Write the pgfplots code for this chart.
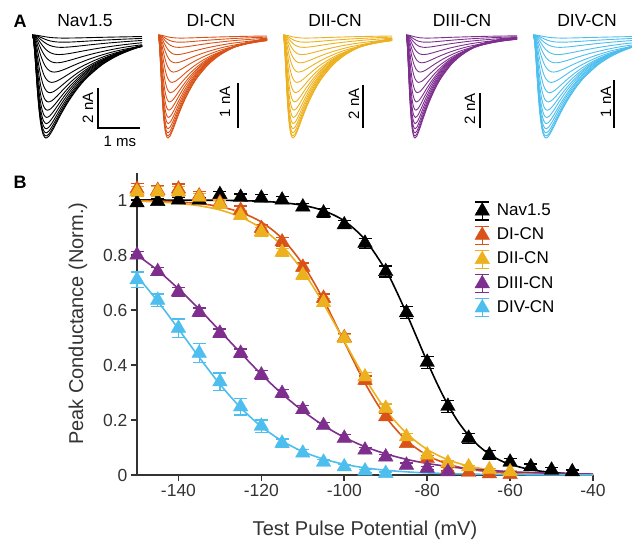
\documentclass[border=0pt]{standalone}
\usepackage{pgfplots}
\pgfplotsset{compat=1.18}
\usepackage{pgfplotstable}
\usepackage{fontspec}
\setmainfont{Liberation Sans}
\definecolor{cNav}{HTML}{000000}
\definecolor{cDI}{HTML}{D95319}
\definecolor{cDII}{HTML}{EDB120}
\definecolor{cDIII}{HTML}{7E2F8E}
\definecolor{cDIV}{HTML}{4DBEEE}
\definecolor{axc}{HTML}{333333}

% normalized current trace shape (time in units of peak time)
\pgfplotstableread{
u s
0 0
0.1 0.037
0.2 0.178
0.3 0.373
0.4 0.564
0.5 0.722
0.6 0.840
0.7 0.919
0.8 0.968
0.9 0.993
1.0 1.0
1.2 0.982
1.5 0.917
2.0 0.787
2.5 0.668
3.0 0.566
3.5 0.478
4.0 0.405
5.0 0.290
6.0 0.208
7.0 0.149
8.0 0.107
10 0.055
12 0.028
}\shapetab

\pgfplotstableread{
V G e
-150 0.990 0.010
-145 0.995 0.010
-140 1.000 0.010
-135 1.000 0.010
-130 1.020 0.012
-125 1.010 0.012
-120 1.007 0.012
-115 1.000 0.012
-110 0.975 0.012
-105 0.953 0.015
-100 0.910 0.015
-95 0.843 0.018
-90 0.740 0.020
-85 0.590 0.022
-80 0.410 0.022
-75 0.250 0.022
-70 0.134 0.018
-65 0.073 0.015
-60 0.047 0.012
-55 0.030 0.010
-50 0.018 0.008
-45 0.012 0.006
}\navdata

\pgfplotstableread{
V G e
-150 1.040 0.020
-145 1.035 0.018
-140 1.040 0.018
-135 1.015 0.015
-130 0.990 0.015
-125 0.963 0.015
-120 0.897 0.015
-115 0.848 0.015
-110 0.756 0.015
-105 0.643 0.015
-100 0.500 0.015
-95 0.345 0.015
-90 0.212 0.012
-85 0.115 0.012
-80 0.060 0.010
-75 0.020 0.008
-70 0.010 0.006
-65 0.005 0.005
-60 0.002 0.005
}\dIdata

\pgfplotstableread{
V G e
-150 1.030 0.018
-145 1.030 0.018
-140 1.030 0.018
-135 1.010 0.015
-130 0.985 0.015
-125 0.945 0.015
-120 0.884 0.015
-115 0.810 0.015
-110 0.727 0.015
-105 0.627 0.015
-100 0.497 0.015
-95 0.357 0.015
-90 0.243 0.015
-85 0.139 0.012
-80 0.073 0.010
-75 0.044 0.008
-70 0.030 0.006
-65 0.020 0.005
-60 0.012 0.005
}\dIIdata

\pgfplotstableread{
V G e
-150 0.800 0.012
-145 0.740 0.015
-140 0.666 0.015
-135 0.592 0.015
-130 0.516 0.015
-125 0.443 0.015
-120 0.364 0.015
-115 0.297 0.015
-110 0.238 0.015
-105 0.180 0.012
-100 0.134 0.012
-95 0.091 0.010
-90 0.066 0.008
-85 0.036 0.008
-80 0.025 0.006
-75 0.012 0.005
}\dIIIdata

\pgfplotstableread{
V G e
-150 0.710 0.028
-145 0.636 0.022
-140 0.534 0.033
-135 0.443 0.034
-130 0.339 0.032
-125 0.248 0.030
-120 0.178 0.022
-115 0.116 0.015
-110 0.080 0.012
-105 0.047 0.010
-100 0.030 0.008
-95 0.015 0.006
-90 0.006 0.005
}\dIVdata

% Boltzmann fits (tabulated)
\pgfplotstableread{
V F
-150 1.0
-145 0.9999
-140 0.9997
-135 0.9994
-130 0.9989
-125 0.9977
-120 0.9953
-115 0.9904
-110 0.9807
-105 0.9613
-100 0.924
-95 0.856
-90 0.745
-87.5 0.671
-85 0.588
-82.5 0.5
-80 0.412
-77.5 0.329
-75 0.255
-72.5 0.193
-70 0.144
-67.5 0.105
-65 0.076
-62.5 0.054
-60 0.0387
-55 0.0193
-50 0.0095
-45 0.0047
-40 0.0023
}\navfit

\pgfplotstableread{
V F
-150 0.998
-145 0.9962
-140 0.993
-135 0.987
-130 0.976
-125 0.955
-120 0.920
-115 0.860
-110 0.766
-105 0.637
-100 0.484
-95 0.334
-90 0.212
-85 0.126
-80 0.0716
-75 0.0397
-70 0.0216
-65 0.0117
-60 0.0063
-55 0.0034
-50 0.0018
-45 0.0010
-40 0.0005
}\dIfit

\pgfplotstableread{
V F
-150 0.996
-145 0.9929
-140 0.988
-135 0.979
-130 0.964
-125 0.938
-120 0.897
-115 0.834
-110 0.742
-105 0.622
-100 0.486
-95 0.352
-90 0.237
-85 0.152
-80 0.093
-75 0.0556
-70 0.0326
-65 0.019
-60 0.011
-55 0.0063
-50 0.0036
-45 0.0021
-40 0.0012
}\dIIfit

\pgfplotstableread{
V F
-150 0.800
-145 0.744
-140 0.677
-135 0.603
-130 0.524
-125 0.444
-120 0.366
-115 0.295
-110 0.233
-105 0.180
-100 0.137
-95 0.103
-90 0.077
-85 0.057
-80 0.042
-75 0.031
-70 0.0225
-60 0.0119
-50 0.0063
-40 0.0033
}\dIIIfit

\pgfplotstableread{
V F
-150 0.723
-145 0.632
-140 0.531
-135 0.428
-130 0.330
-125 0.245
-120 0.176
-115 0.124
-110 0.085
-105 0.058
-100 0.039
-95 0.026
-90 0.0173
-85 0.0115
-80 0.0076
-70 0.0033
-60 0.0014
-40 0.0003
}\dIVfit

% one current trace: colour, amplitude, time to peak
\newcommand{\tr}[3]{\addplot[#1, smooth, no markers, line width=0.9bp] table[x expr=\thisrow{u}*#3, y expr=-#2*\thisrow{s}] {\shapetab};}

\pgfplotsset{
  trace axis/.style={scale only axis, hide axis, anchor=south west,
    height=109.2bp, xmin=0, ymin=-1.03, ymax=0.03},
  datastyle/.style={only marks, mark=triangle*, mark size=8.4bp, color=#1,
    mark options={line width=0.4bp},
    error bars/.cd, y dir=both, y explicit,
    error bar style={line width=1.2bp, color=#1},
    error mark options={rotate=90, mark size=6.5bp, line width=1.2bp, color=#1}},
  fitstyle/.style={no markers, smooth, line width=1.6bp, color=#1, forget plot},
}

\begin{document}
\begin{tikzpicture}
\useasboundingbox (0,0) rectangle (632bp,-541bp);

% ---------- Panel A: current traces ----------
\begin{axis}[trace axis, at={(32bp,-141.1bp)}, width=110bp, xmax=110]
\tr{cNav}{0.03}{32.8}\tr{cNav}{0.07}{31.3}\tr{cNav}{0.12}{29.5}\tr{cNav}{0.19}{27.1}
\tr{cNav}{0.27}{24.7}\tr{cNav}{0.36}{22.2}\tr{cNav}{0.46}{19.8}\tr{cNav}{0.56}{17.9}
\tr{cNav}{0.65}{16.5}\tr{cNav}{0.73}{15.5}\tr{cNav}{0.80}{14.8}\tr{cNav}{0.86}{14.4}
\tr{cNav}{0.91}{14.2}\tr{cNav}{0.95}{14.05}\tr{cNav}{0.98}{14.0}\tr{cNav}{1.0}{14}
\end{axis}

\begin{axis}[trace axis, at={(158bp,-141.1bp)}, width=109bp, xmax=109]
\tr{cDI}{0.03}{23.2}\tr{cDI}{0.07}{22.1}\tr{cDI}{0.12}{20.8}\tr{cDI}{0.19}{19.2}
\tr{cDI}{0.27}{17.5}\tr{cDI}{0.36}{15.7}\tr{cDI}{0.46}{14.1}\tr{cDI}{0.56}{12.7}
\tr{cDI}{0.65}{11.7}\tr{cDI}{0.73}{11.0}\tr{cDI}{0.80}{10.6}\tr{cDI}{0.86}{10.3}
\tr{cDI}{0.91}{10.1}\tr{cDI}{0.95}{10.0}\tr{cDI}{0.98}{10.0}\tr{cDI}{1.0}{10}
\end{axis}

\begin{axis}[trace axis, at={(283bp,-141.1bp)}, width=109bp, xmax=109]
\tr{cDII}{0.03}{23.2}\tr{cDII}{0.07}{22.1}\tr{cDII}{0.12}{20.8}\tr{cDII}{0.19}{19.2}
\tr{cDII}{0.27}{17.5}\tr{cDII}{0.36}{15.7}\tr{cDII}{0.46}{14.1}\tr{cDII}{0.56}{12.7}
\tr{cDII}{0.65}{11.7}\tr{cDII}{0.73}{11.0}\tr{cDII}{0.80}{10.6}\tr{cDII}{0.86}{10.3}
\tr{cDII}{0.91}{10.1}\tr{cDII}{0.95}{10.0}\tr{cDII}{0.98}{10.0}\tr{cDII}{1.0}{10}
\end{axis}

\begin{axis}[trace axis, at={(406bp,-141.1bp)}, width=111bp, xmax=111]
\tr{cDIII}{0.03}{21.2}\tr{cDIII}{0.07}{20.2}\tr{cDIII}{0.12}{19.1}\tr{cDIII}{0.19}{17.5}
\tr{cDIII}{0.27}{15.9}\tr{cDIII}{0.36}{14.3}\tr{cDIII}{0.46}{12.8}\tr{cDIII}{0.56}{11.5}
\tr{cDIII}{0.65}{10.6}\tr{cDIII}{0.73}{9.9}\tr{cDIII}{0.80}{9.5}\tr{cDIII}{0.86}{9.25}
\tr{cDIII}{0.91}{9.1}\tr{cDIII}{0.95}{9.03}\tr{cDIII}{0.98}{9.0}\tr{cDIII}{1.0}{9}
\end{axis}

\begin{axis}[trace axis, at={(533bp,-141.1bp)}, width=99bp, xmax=99]
\tr{cDIV}{0.03}{29.9}\tr{cDIV}{0.07}{28.6}\tr{cDIV}{0.12}{26.9}\tr{cDIV}{0.19}{24.8}
\tr{cDIV}{0.27}{22.6}\tr{cDIV}{0.36}{20.4}\tr{cDIV}{0.46}{18.2}\tr{cDIV}{0.56}{16.5}
\tr{cDIV}{0.65}{15.2}\tr{cDIV}{0.73}{14.3}\tr{cDIV}{0.80}{13.7}\tr{cDIV}{0.86}{13.4}
\tr{cDIV}{0.91}{13.1}\tr{cDIV}{0.95}{13.05}\tr{cDIV}{0.98}{13.0}\tr{cDIV}{1.0}{13}
\end{axis}

% titles, panel letters and scale bars
\begin{scope}[every node/.style={inner sep=0pt}]
\node[anchor=base, font=\fontsize{17.5bp}{20bp}\selectfont] at (85bp,-26.5bp) {Nav1.5};
\node[anchor=base, font=\fontsize{17.5bp}{20bp}\selectfont] at (211bp,-26.5bp) {DI-CN};
\node[anchor=base, font=\fontsize{17.5bp}{20bp}\selectfont] at (335bp,-26.5bp) {DII-CN};
\node[anchor=base, font=\fontsize{17.5bp}{20bp}\selectfont] at (462bp,-26.5bp) {DIII-CN};
\node[anchor=base, font=\fontsize{17.5bp}{20bp}\selectfont] at (587bp,-26.5bp) {DIV-CN};
\node[anchor=base, font=\bfseries\fontsize{18bp}{20bp}\selectfont] at (20bp,-27bp) {A};
\node[anchor=base, font=\bfseries\fontsize{18bp}{20bp}\selectfont] at (20bp,-188bp) {B};

\draw[line width=2.2bp] (98bp,-88bp) -- (98bp,-128bp) -- (140bp,-128bp);
\node[anchor=base, rotate=90, font=\fontsize{15bp}{18bp}\selectfont] at (93bp,-108bp) {2 nA};
\node[anchor=base, font=\fontsize{15bp}{18bp}\selectfont] at (120bp,-146bp) {1 ms};
\draw[line width=2.2bp] (238bp,-83bp) -- (238bp,-128bp);
\node[anchor=base, rotate=90, font=\fontsize{15bp}{18bp}\selectfont] at (230bp,-102bp) {1 nA};
\draw[line width=2.2bp] (363bp,-85bp) -- (363bp,-128bp);
\node[anchor=base, rotate=90, font=\fontsize{15bp}{18bp}\selectfont] at (359bp,-104bp) {2 nA};
\draw[line width=2.2bp] (480bp,-93bp) -- (480bp,-128bp);
\node[anchor=base, rotate=90, font=\fontsize{15bp}{18bp}\selectfont] at (475bp,-109bp) {2 nA};
\draw[line width=2.2bp] (614bp,-80bp) -- (614bp,-128bp);
\node[anchor=base, rotate=90, font=\fontsize{15bp}{18bp}\selectfont] at (611bp,-102bp) {1 nA};

\node[anchor=base, text=axc, font=\fontsize{20bp}{24bp}\selectfont] at (365bp,-535bp) {Test Pulse Potential (mV)};
\node[anchor=base, rotate=90, text=axc, font=\fontsize{20bp}{24bp}\selectfont] at (83bp,-323.75bp) {Peak Conductance (Norm.)};
\end{scope}

% ---------- Panel B ----------
\begin{axis}[
  at={(137bp,-475bp)}, anchor=south west,
  scale only axis, width=456bp, height=302.5bp,
  xmin=-150, xmax=-40, ymin=0, ymax=1.1,
  axis x line=bottom, axis y line=left,
  axis line style={-, line width=1.6bp, axc},
  xtick={-140,-120,-100,-80,-60,-40},
  ytick={0,0.2,0.4,0.6,0.8,1},
  tick style={line width=1.6bp, axc},
  major tick length=6bp, tick align=outside,
  /pgf/number format/assume math mode=true,
  ticklabel style={font=\fontsize{17.5bp}{20bp}\selectfont, text=axc},
  clip=false,
  legend style={draw=none, fill=none, at={(axis description cs:0.74,0.905)},
    anchor=north west, row sep=5bp, inner sep=0pt,
    font=\fontsize{17bp}{20bp}\selectfont,
    nodes={inner sep=2bp, text height=12bp, text depth=3bp},
    /tikz/every odd column/.style={column sep=5bp}},
  legend cell align=left,
  legend image code/.code={
    \draw[#1, mark=none, line width=1.2bp] (0bp,-9bp) -- (0bp,9bp)
      (-7bp,-9bp) -- (7bp,-9bp) (-7bp,9bp) -- (7bp,9bp);
    \draw[#1] plot coordinates {(0bp,0bp)};
  },
]
\addplot[fitstyle=cNav] table[x=V, y=F] {\navfit};
\addplot[datastyle=cNav] table[x=V, y=G, y error=e] {\navdata};
\addlegendentry{Nav1.5}
\addplot[fitstyle=cDI] table[x=V, y=F] {\dIfit};
\addplot[datastyle=cDI] table[x=V, y=G, y error=e] {\dIdata};
\addlegendentry{DI-CN}
\addplot[fitstyle=cDII] table[x=V, y=F] {\dIIfit};
\addplot[datastyle=cDII] table[x=V, y=G, y error=e] {\dIIdata};
\addlegendentry{DII-CN}
\addplot[fitstyle=cDIII] table[x=V, y=F] {\dIIIfit};
\addplot[datastyle=cDIII] table[x=V, y=G, y error=e] {\dIIIdata};
\addlegendentry{DIII-CN}
\addplot[fitstyle=cDIV] table[x=V, y=F] {\dIVfit};
\addplot[datastyle=cDIV] table[x=V, y=G, y error=e] {\dIVdata};
\addlegendentry{DIV-CN}
\end{axis}
\end{tikzpicture}
\end{document}
